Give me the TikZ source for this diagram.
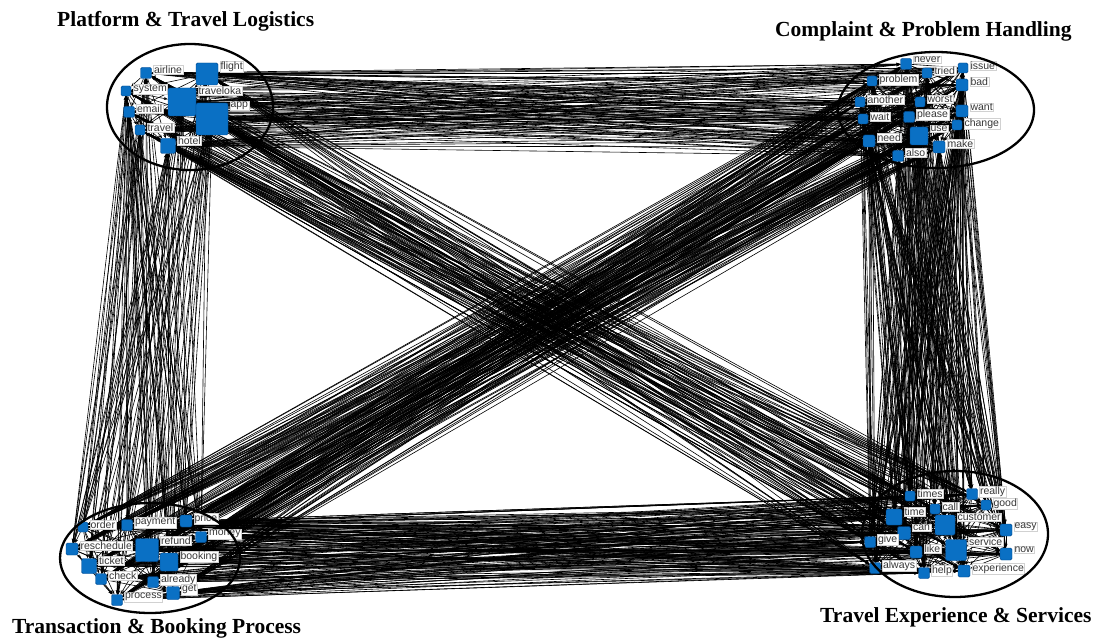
\documentclass[tikz,border=0pt]{standalone}
\usepackage{fontspec}
\setmainfont{Liberation Serif}
\newfontfamily\labelfont{Liberation Sans}
\usetikzlibrary{arrows.meta}
\pgfdeclarelayer{bg}
\pgfsetlayers{bg,main}
\definecolor{sqblue}{RGB}{10,112,196}
\definecolor{sqedge}{RGB}{0,70,140}
\definecolor{lbltext}{RGB}{55,55,55}
\tikzset{
  sq/.style={fill=sqblue, draw=sqedge, line width=0.4pt, rounded corners=1.5pt, inner sep=0pt, rectangle},
  lbl/.style={fill=white, draw=black!18, line width=0.3pt, text=lbltext, inner sep=0.7pt,
              font=\labelfont\fontsize{10.5}{11.5}\selectfont, anchor=north west},
  lnk/.style={draw=black, line width=0.6pt, -{Stealth[length=4pt,width=3pt]}},
  ring/.style={draw=black, line width=2.3pt},
  ttl/.style={font=\bfseries\fontsize{21.5}{24}\selectfont, anchor=base west, inner sep=0pt}
}
\newcommand\wnode[4]{%
  \node[sq, minimum size=#4pt] (#1) at (#2,#3) {};
  \node[lbl] (#1-l) at ([xshift=1.5pt,yshift=2pt]#1.north east) {#1};}
\newcommand\linkall[2]{%
  \foreach \pa [count=\na] in #1 {%
    \foreach \pb [count=\nb] in #2 {%
      \ifodd\numexpr\na+\nb\relax
        \draw[lnk] (\pa) -- (\pb);
      \else
        \draw[lnk] (\pb) -- (\pa);
      \fi}}}
\newcommand\linkin[1]{%
  \foreach \pa [count=\na] in #1 {%
    \foreach \pb [count=\nb] in #1 {%
      \ifnum\nb>\na\relax
        \draw[lnk] (\pa) -- (\pb);
      \fi}}}
\def\CA{airline,flight,system,traveloka,app,email,travel,hotel}
\def\CB{never,tried,issue,problem,bad,another,worst,want,wait,please,use,change,need,make,also}
\def\CC{order,payment,price,reschedule,refund,money,booking,ticket,check,already,get,process}
\def\CD{times,really,good,call,time,customer,can,easy,give,like,service,now,always,help,experience}
\begin{document}
\begin{tikzpicture}[x=1pt,y=-1pt]
\begin{pgfonlayer}{bg}
\fill[white] (0,0) rectangle (1096,639);
\end{pgfonlayer}
\useasboundingbox (0,0) rectangle (1096,639);

% cluster 1
\wnode{airline}{146}{73}{11}
\wnode{flight}{207}{74}{22}
\wnode{system}{126}{91}{10}
\wnode{traveloka}{182}{102}{28}
\wnode{app}{212}{119}{32}
\wnode{email}{129}{112}{11}
\wnode{travel}{140}{130}{10}
\wnode{hotel}{168}{146}{15}

% cluster 2
\wnode{never}{906}{64}{11}
\wnode{tried}{927}{73}{10}
\wnode{issue}{963}{68}{10}
\wnode{problem}{872}{81}{10}
\wnode{bad}{962}{85}{12}
\wnode{another}{860}{102}{10}
\wnode{worst}{920}{102}{10}
\wnode{want}{962}{111}{12}
\wnode{wait}{863}{119}{10}
\wnode{please}{909}{117}{11}
\wnode{use}{919}{136}{18}
\wnode{change}{957}{125}{10}
\wnode{need}{869}{141}{12}
\wnode{make}{939}{147}{12}
\wnode{also}{898}{156}{11}

% cluster 3
\wnode{order}{83}{527}{10}
\wnode{payment}{127}{525}{11}
\wnode{price}{186}{521}{12}
\wnode{reschedule}{72}{549}{12}
\wnode{refund}{147}{550}{23}
\wnode{money}{201}{537}{11}
\wnode{booking}{169}{562}{18}
\wnode{ticket}{89}{566}{15}
\wnode{check}{101}{579}{11}
\wnode{already}{153}{582}{11}
\wnode{get}{173}{593}{13}
\wnode{process}{117}{600}{11}

% cluster 4
\wnode{times}{910}{496}{10}
\wnode{really}{972}{494}{11}
\wnode{good}{986}{505}{10}
\wnode{call}{935}{509}{10}
\wnode{time}{894}{517}{16}
\wnode{customer}{945}{525}{20}
\wnode{can}{904}{533}{13}
\wnode{easy}{1006}{530}{12}
\wnode{give}{870}{542}{11}
\wnode{like}{916}{552}{12}
\wnode{service}{956}{550}{21}
\wnode{now}{1006}{554}{12}
\wnode{always}{875}{568}{11}
\wnode{help}{924}{573}{11}
\wnode{experience}{964}{571}{12}

\begin{pgfonlayer}{bg}
  \linkall{\CA}{\CB}
  \linkall{\CA}{\CC}
  \linkall{\CA}{\CD}
  \linkall{\CB}{\CC}
  \linkall{\CB}{\CD}
  \linkall{\CC}{\CD}
  \linkin{\CA}
  \linkin{\CB}
  \linkin{\CC}
  \linkin{\CD}
\end{pgfonlayer}

% cluster outlines
\draw[ring] (190,107) ellipse [x radius=83pt, y radius=63pt];
\draw[ring] (936,110) ellipse [x radius=98pt, y radius=58pt];
\draw[ring] (150,558) ellipse [x radius=90pt, y radius=55pt];
\draw[ring] (955,534) ellipse [x radius=93pt, y radius=63pt];

% titles
\node[ttl] (t1) at (57,27) {Platform \& Travel Logistics};
\node[ttl] (t2) at (775,37) {Complaint \& Problem Handling};
\node[ttl] (t3) at (12,633) {Transaction \& Booking Process};
\node[ttl] (t4) at (820,622) {Travel Experience \& Services};
\end{tikzpicture}
\end{document}
